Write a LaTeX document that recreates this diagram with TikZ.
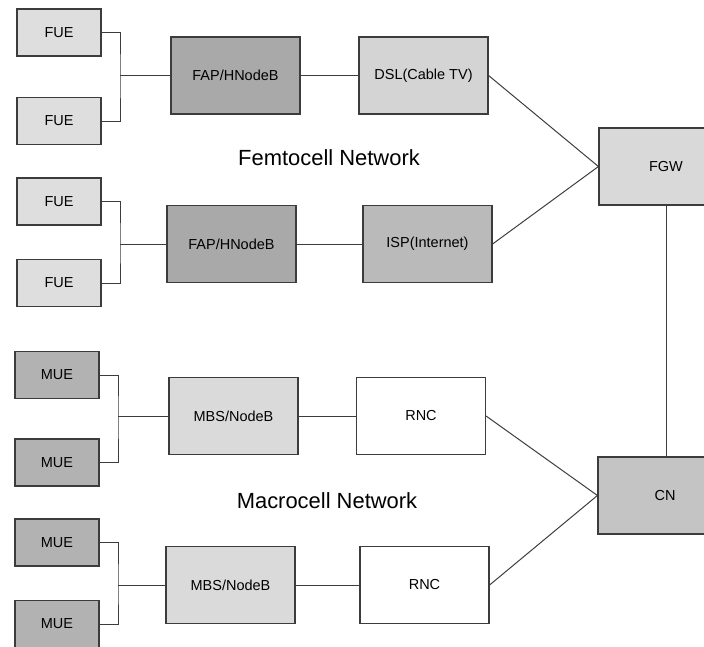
\documentclass[tikz,border=0pt]{standalone}
\usepackage{fontspec}
\setmainfont{Liberation Sans}
\usepackage{tikz}
\usetikzlibrary{positioning}
\definecolor{UEGray}{HTML}{DEDEDE}
\definecolor{FapGray}{HTML}{A9A9A9}
\definecolor{DslGray}{HTML}{D4D4D4}
\definecolor{IspGray}{HTML}{BABABA}
\definecolor{GwGray}{HTML}{D9D9D9}
\definecolor{MueGray}{HTML}{B2B2B2}
\definecolor{MbsGray}{HTML}{DADADA}
\definecolor{CnGray}{HTML}{C4C4C4}
\definecolor{LineGray}{HTML}{3C3C3C}

\begin{document}
\begin{tikzpicture}[x=0.025cm, y=-0.025cm,
    unit/.style={draw=LineGray, line width=0.8pt, minimum width=2.1cm, minimum height=1.175cm,
                 inner sep=0pt, font=\fontsize{10.3}{12}\selectfont},
    bigbox/.style={unit, minimum width=3.225cm, minimum height=1.925cm},
    wire/.style={draw=LineGray, line width=0.7pt},
    netlabel/.style={font=\fontsize{15.6}{18}\selectfont}]
  \clip (0,0) rectangle (704,646);
  \fill[white] (0,0) rectangle (704,646);
  % User equipment
  \foreach \i/\y in {1/32.5, 2/121, 3/201.5, 4/283}{
    \node[unit, fill=UEGray] (fue\i) at (59, \y) {FUE};
  }
  \foreach \i/\y in {1/375, 2/462.5, 3/542.5, 4/624}{
    \node[unit, fill=MueGray] (mue\i) at (57, \y) {MUE};
  }
  % Access points and backhaul
  \node[bigbox, fill=FapGray] (fap1) at (235.5, 75.5) {FAP/HNodeB};
  \node[bigbox, fill=FapGray] (fap2) at (231.5, 244) {FAP/HNodeB};
  \node[bigbox, fill=DslGray] (dsl) at (423.5, 75.5) {DSL(Cable TV)};
  \node[bigbox, fill=IspGray] (isp) at (427.5, 244) {ISP(Internet)};
  \node[bigbox, fill=MbsGray] (mbs1) at (233.5, 416) {MBS/NodeB};
  \node[bigbox, fill=MbsGray] (mbs2) at (230.5, 585) {MBS/NodeB};
  \node[bigbox, fill=white] (rnc1) at (421, 416) {RNC};
  \node[bigbox, fill=white] (rnc2) at (424.5, 585) {RNC};
  % Core side
  \node[bigbox, fill=GwGray, minimum width=3.35cm] (fgw) at (666, 166.5) {FGW};
  \node[bigbox, fill=CnGray, minimum width=3.35cm] (cn) at (665, 495.5) {CN};
  % Network labels
  \node[netlabel] (femto) at (329, 158) {Femtocell Network};
  \node[netlabel] (macro) at (327, 501) {Macrocell Network};
  % Junctions
  \coordinate (j1) at (120, 75.5);
  \coordinate (j2) at (120, 244);
  \coordinate (j3) at (118, 416);
  \coordinate (j4) at (118, 585);
  \draw[wire] (fue1.east) -| (j1) |- (fue2.east);
  \draw[wire] (fue3.east) -| (j2) |- (fue4.east);
  \draw[wire] (mue1.east) -| (j3) |- (mue2.east);
  \draw[wire] (mue3.east) -| (j4) |- (mue4.east);
  \draw[wire] (j1) -- (fap1.west);
  \draw[wire] (j2) -- (fap2.west);
  \draw[wire] (j3) -- (mbs1.west);
  \draw[wire] (j4) -- (mbs2.west);
  % Links
  \draw[wire] (fap1.east) -- (dsl.west);
  \draw[wire] (fap2.east) -- (isp.west);
  \draw[wire] (mbs1.east) -- (rnc1.west);
  \draw[wire] (mbs2.east) -- (rnc2.west);
  \draw[wire] (dsl.east) -- (fgw.west);
  \draw[wire] (isp.east) -- (fgw.west);
  \draw[wire] (rnc1.east) -- (cn.west);
  \draw[wire] (rnc2.east) -- (cn.west);
  \draw[wire] (fgw.south) -- (fgw.south |- cn.north);
\end{tikzpicture}
\end{document}
